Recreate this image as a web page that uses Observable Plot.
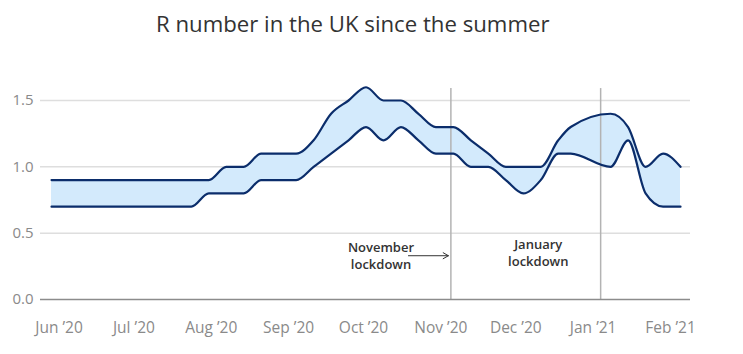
<!DOCTYPE html>
<html>
<head>
<meta charset="utf-8">
<script src="https://cdn.jsdelivr.net/npm/d3@7"></script>
<script src="https://cdn.jsdelivr.net/npm/@observablehq/plot@0.6"></script>
<style>
  html, body { margin: 0; padding: 0; background: #fff; }
  #title { height: 45px; width: 743px; text-align: left; padding-left: 156px; font-family: "Open Sans", sans-serif; font-size: 22.2px; color: #333; line-height: 43px; padding-top: 2px; box-sizing: border-box; white-space: nowrap; }
  #chart svg g[aria-label="x-axis tick label"] text,
  #chart svg g[aria-label="y-axis tick label"] text { fill: #8a8a8a; }
</style>
</head>
<body>
<div id="title">R number in the UK since the summer</div>
<div id="chart"></div>
<script>
// Weekly published R range (lower / upper bound)
const dates = ["2020-05-29","2020-06-05","2020-06-12","2020-06-19","2020-06-26","2020-07-03","2020-07-10","2020-07-17","2020-07-24","2020-07-31",
  "2020-08-07","2020-08-14","2020-08-21","2020-08-28","2020-09-04","2020-09-11","2020-09-18","2020-09-25","2020-10-02","2020-10-09",
  "2020-10-16","2020-10-23","2020-10-30","2020-11-06","2020-11-13","2020-11-20","2020-11-27","2020-12-04","2020-12-11","2020-12-18",
  "2020-12-23","2021-01-08","2021-01-15","2021-01-22","2021-01-29","2021-02-05"];
const lower = [0.7,0.7,0.7,0.7,0.7,0.7,0.7,0.7,0.7,0.8,
  0.8,0.8,0.9,0.9,0.9,1.0,1.1,1.2,1.3,1.2,
  1.3,1.2,1.1,1.1,1.0,1.0,0.9,0.8,0.9,1.1,
  1.1,1.0,1.2,0.8,0.7,0.7];
const upper = [0.9,0.9,0.9,0.9,0.9,0.9,0.9,0.9,0.9,0.9,
  1.0,1.0,1.1,1.1,1.1,1.2,1.4,1.5,1.6,1.5,
  1.5,1.4,1.3,1.3,1.2,1.1,1.0,1.0,1.0,1.2,
  1.3,1.4,1.3,1.0,1.1,1.0];

const yTicks = [0, 0.5, 1.0, 1.5];
const monthTicks = ["2020-06-01","2020-07-01","2020-08-01","2020-09-01","2020-10-01","2020-11-01","2020-12-01","2021-01-01","2021-02-01"];
const lockdownDates = ["2020-11-05","2021-01-04"];
const annotationLabels = ["November\nlockdown", "January\nlockdown"];
const annotationDates = ["2020-10-08","2020-12-10"];
const annotationValues = [0.335, 0.36];
const arrowFrom = {date: "2020-10-19", value: 0.33};
const arrowTo = {date: "2020-11-04", value: 0.33};

const utc = s => new Date(s + "T00:00:00Z");
const data = dates.map((d, i) => ({date: utc(d), lower: lower[i], upper: upper[i]}));
const annotations = annotationLabels.map((t, i) => ({label: t, date: utc(annotationDates[i]), value: annotationValues[i]}));
const fmt = d3.utcFormat("%b");
const yr = d3.utcFormat("%y");

const chart = Plot.plot({
  width: 743,
  height: 309,
  marginLeft: 40,
  marginRight: 53,
  marginTop: 55,
  marginBottom: 55,
  style: {fontFamily: "'Open Sans', sans-serif", background: "#fff", overflow: "visible"},
  x: {type: "utc", domain: [new Date(Date.UTC(2020, 4, 24, 14)), new Date(Date.UTC(2021, 1, 9, 0))]},
  y: {domain: [0, 1.5]},
  marks: [
    Plot.ruleY(yTicks.filter(t => t > 0), {stroke: "#dedede", strokeWidth: 1.5}),
    Plot.areaY(data, {x: "date", y1: "lower", y2: "upper", fill: "#d3eafc", curve: "monotone-x"}),
    Plot.ruleX(lockdownDates.map(utc), {y1: 0, y2: 1.59, stroke: "#b3b3b3", strokeWidth: 1.5}),
    Plot.ruleY([0], {stroke: "#8c8c8c", strokeWidth: 1.5}),
    Plot.lineY(data, {x: "date", y: "lower", stroke: "#0b2d6b", strokeWidth: 2.2, curve: "monotone-x"}),
    Plot.lineY(data, {x: "date", y: "upper", stroke: "#0b2d6b", strokeWidth: 2.2, curve: "monotone-x"}),
    Plot.text(annotations, {x: "date", y: "value", text: "label", fontSize: 13, fontWeight: 600, fill: "#333", lineHeight: 1.3}),
    Plot.arrow([{x1: utc(arrowFrom.date), y1: arrowFrom.value, x2: utc(arrowTo.date), y2: arrowTo.value}],
      {x1: "x1", y1: "y1", x2: "x2", y2: "y2", bend: 0, headLength: 9, stroke: "#333", strokeWidth: 1}),
    Plot.axisY({ticks: yTicks, tickSize: 0, tickPadding: 7, fontSize: 15, tickFormat: d3.format(".1f")}),
    Plot.axisX({ticks: monthTicks.map(utc), tickSize: 0, tickPadding: 22, fontSize: 15.5,
      tickFormat: d => `${fmt(d)} \u2019${yr(d)}`})
  ]
});
document.getElementById("chart").appendChild(chart);
</script>
</body>
</html>
